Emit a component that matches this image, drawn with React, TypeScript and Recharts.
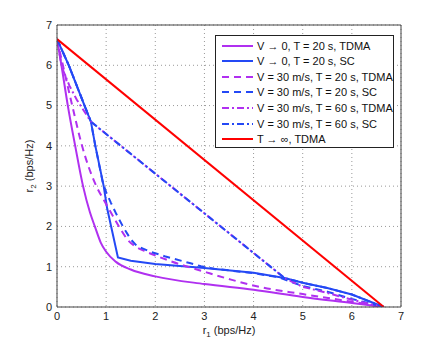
import { LineChart, Line, XAxis, YAxis, CartesianGrid, Legend, Label } from 'recharts';

const xTicks = [0, 1, 2, 3, 4, 5, 6, 7];
const yTicks = [0, 1, 2, 3, 4, 5, 6, 7];

// V -> 0, T = 20 s, TDMA
const staticTdmaR1 = [0, 0.09, 0.22, 0.37, 0.53, 0.67, 0.77, 0.89, 1.0, 1.2, 1.5, 2.0, 3.0, 4.0, 5.0, 6.0, 6.65];
const staticTdmaR2 = [6.65, 6.0, 5.0, 4.0, 3.0, 2.35, 2.0, 1.6, 1.37, 1.12, 0.93, 0.76, 0.57, 0.43, 0.25, 0.1, 0];

// V -> 0, T = 20 s, SC
const staticScR1 = [0, 0.24, 0.56, 0.69, 0.78, 0.95, 1.02, 1.24, 1.5, 2.0, 3.0, 4.0, 4.63, 5.0, 5.5, 6.0, 6.65];
const staticScR2 = [6.65, 6.0, 5.0, 4.6, 4.0, 3.0, 2.45, 1.23, 1.15, 1.07, 0.97, 0.85, 0.72, 0.6, 0.47, 0.31, 0];

// V = 30 m/s, T = 20 s, TDMA
const v30t20TdmaR1 = [0, 0.12, 0.31, 0.51, 0.8, 0.97, 1.14, 1.3, 1.45, 1.6, 1.8, 2.02, 2.33, 3.04, 3.54, 4.12, 5.0, 6.0, 6.65];
const v30t20TdmaR2 = [6.65, 6.0, 5.0, 4.0, 3.0, 2.62, 2.25, 1.92, 1.65, 1.5, 1.38, 1.27, 1.13, 0.86, 0.68, 0.5, 0.32, 0.13, 0];

// V = 30 m/s, T = 20 s, SC
const v30t20ScR1 = [0, 0.24, 0.56, 0.69, 0.78, 0.93, 1.0, 1.1, 1.21, 1.35, 1.5, 1.62, 1.75, 1.88, 2.19, 2.7, 2.93, 3.2, 4.0, 4.5, 5.0, 5.5, 6.0, 6.65];
const v30t20ScR2 = [6.65, 6.0, 5.0, 4.6, 4.0, 3.1, 2.85, 2.58, 2.3, 1.98, 1.68, 1.52, 1.45, 1.38, 1.26, 1.09, 1.01, 0.95, 0.84, 0.74, 0.52, 0.38, 0.2, 0];

// V = 30 m/s, T = 60 s, TDMA
const v30t60TdmaR1 = [0, 0.1, 0.25, 0.4, 0.69, 4.63, 5.0, 5.5, 6.0, 6.65];
const v30t60TdmaR2 = [6.65, 5.95, 5.5, 5.15, 4.6, 0.72, 0.5, 0.35, 0.18, 0];

// V = 30 m/s, T = 60 s, SC
const v30t60ScR1 = [0, 0.24, 0.56, 0.69, 4.63, 5.0, 5.5, 6.0, 6.65];
const v30t60ScR2 = [6.65, 6.0, 5.0, 4.6, 0.72, 0.6, 0.47, 0.31, 0];

// T -> inf, TDMA
const infTdmaR1 = [0, 6.65];
const infTdmaR2 = [6.65, 0];

const PURPLE = '#b030f0';
const BLUE = '#2449f5';
const RED = '#ff0000';
const DASH = '7 5';
const DASHDOT = '7 3 2 3';

const zip = (r1: number[], r2: number[]) => r1.map((x, i) => ({ x, y: r2[i] }));

const series = [
  { name: 'V \u2192 0, T = 20 s, TDMA', data: zip(staticTdmaR1, staticTdmaR2), color: PURPLE, dash: undefined, curve: 'monotone' },
  { name: 'V \u2192 0, T = 20 s, SC', data: zip(staticScR1, staticScR2), color: BLUE, dash: undefined, curve: 'linear' },
  { name: 'V = 30 m/s, T = 20 s, TDMA', data: zip(v30t20TdmaR1, v30t20TdmaR2), color: PURPLE, dash: DASH, curve: 'monotone' },
  { name: 'V = 30 m/s, T = 20 s, SC', data: zip(v30t20ScR1, v30t20ScR2), color: BLUE, dash: DASH, curve: 'linear' },
  { name: 'V = 30 m/s, T = 60 s, TDMA', data: zip(v30t60TdmaR1, v30t60TdmaR2), color: PURPLE, dash: DASHDOT, curve: 'linear' },
  { name: 'V = 30 m/s, T = 60 s, SC', data: zip(v30t60ScR1, v30t60ScR2), color: BLUE, dash: DASHDOT, curve: 'linear' },
  { name: 'T \u2192 \u221e, TDMA', data: zip(infTdmaR1, infTdmaR2), color: RED, dash: undefined, curve: 'linear' },
];

const FONT = '"Liberation Sans", Arial, Helvetica, sans-serif';

const XTitle = ({ viewBox }: any) => {
  const { x, y, width } = viewBox;
  return (
    <text x={x + width / 2} y={y + 27} textAnchor='middle' fontSize={11} fill='#222' fontFamily={FONT}>
      r<tspan dy={3} fontSize={8}>1</tspan>
      <tspan dy={-3}> (bps/Hz)</tspan>
    </text>
  );
};

const YTitle = ({ viewBox }: any) => {
  const { x, y, height } = viewBox;
  const cx = x + 16;
  const cy = y + height / 2;
  return (
    <text x={cx} y={cy} textAnchor='middle' fontSize={11} fill='#222' fontFamily={FONT} transform={`rotate(-90 ${cx} ${cy})`}>
      r<tspan dy={3} fontSize={8}>2</tspan>
      <tspan dy={-3}> (bps/Hz)</tspan>
    </text>
  );
};

const renderLegend = () => (
  <div
    style={{
      background: '#fff',
      border: '1px solid #222',
      width: 179,
      height: 113,
      boxSizing: 'border-box',
      padding: '2px 0 0 6px',
      fontFamily: FONT,
      fontSize: 11,
      color: '#111',
    }}
  >
    {series.map((s) => (
      <div key={s.name} style={{ display: 'flex', alignItems: 'center', height: 15.55 }}>
        <svg width={31} height={6}>
          <line x1={0} y1={3} x2={31} y2={3} stroke={s.color} strokeWidth={2} strokeDasharray={s.dash} />
        </svg>
        <span style={{ marginLeft: 4, whiteSpace: 'nowrap' }}>{s.name}</span>
      </div>
    ))}
  </div>
);

const tickStyle = { fontSize: 11, fill: '#222', fontFamily: FONT };

export default function App() {
  return (
    <div style={{ width: 443, height: 346, background: '#fff', fontFamily: FONT }}>
      <style>{'body{margin:0}'}</style>
      <LineChart width={443} height={346} margin={{ top: 25, right: 42, bottom: 9, left: 17 }}>
        <CartesianGrid stroke='#999' strokeDasharray='1 3' />
        <XAxis
          dataKey='x'
          type='number'
          domain={[0, 7]}
          ticks={xTicks}
          allowDataOverflow
          axisLine={false}
          tickLine={false}
          tickSize={3}
          tickMargin={2}
          height={30}
          tick={tickStyle}
        >
          <Label content={<XTitle />} />
        </XAxis>
        <XAxis xAxisId='bottomBox' orientation='bottom' mirror type='number' domain={[0, 7]} ticks={xTicks} height={1} tick={false} tickSize={4} stroke='#444' />
        <XAxis xAxisId='topBox' orientation='top' mirror type='number' domain={[0, 7]} ticks={xTicks} height={1} tick={false} tickSize={4} stroke='#444' />
        <YAxis
          type='number'
          domain={[0, 7]}
          ticks={yTicks}
          allowDataOverflow
          axisLine={false}
          tickLine={false}
          tickSize={3}
          tickMargin={2}
          width={40}
          tick={tickStyle}
        >
          <Label content={<YTitle />} />
        </YAxis>
        <YAxis yAxisId='leftBox' orientation='left' mirror type='number' domain={[0, 7]} ticks={yTicks} width={1} tick={false} tickSize={4} stroke='#444' />
        <YAxis yAxisId='rightBox' orientation='right' mirror type='number' domain={[0, 7]} ticks={yTicks} width={1} tick={false} tickSize={4} stroke='#444' />
        {series.map((s) => (
          <Line
            key={s.name}
            data={s.data}
            dataKey='y'
            name={s.name}
            type={s.curve as any}
            stroke={s.color}
            strokeWidth={2}
            strokeDasharray={s.dash}
            dot={false}
            activeDot={false}
            isAnimationActive={false}
          />
        ))}
        <Legend
          layout='vertical'
          align='center'
          verticalAlign='middle'
          content={renderLegend}
          wrapperStyle={{ position: 'absolute', left: 215, top: 35, width: 179, height: 113 }}
        />
      </LineChart>
    </div>
  );
}
